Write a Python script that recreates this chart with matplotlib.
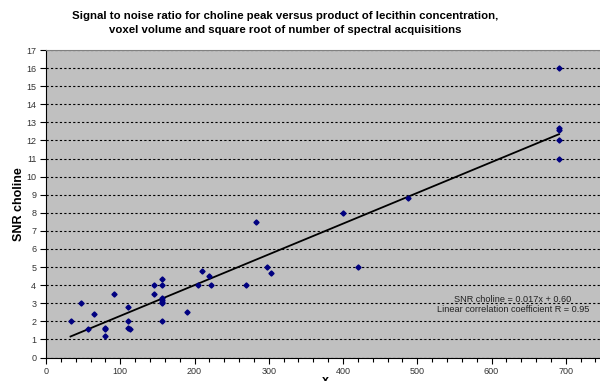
'''
Scatter of choline SNR against lecithin concentration x voxel volume x
sqrt(number of acquisitions), with the linear fit drawn through it.
'''
import matplotlib
matplotlib.use("Agg")
import matplotlib.pyplot as plt
import numpy as np
from matplotlib.ticker import MultipleLocator

# data
product_x = [33, 47, 56, 64, 80, 80, 80, 91, 110, 110, 110, 113,
             145, 145, 156, 156, 156, 156, 156, 156, 156, 190,
             205, 210, 220, 222, 270, 283, 297, 303, 400, 420, 488,
             691, 691, 691, 691, 691]
snr_choline = [2.0, 3.0, 1.6, 2.4, 1.65, 1.6, 1.2, 3.5, 2.8, 2.0, 1.65, 1.6,
               4.0, 3.5, 4.33, 4.0, 3.3, 3.2, 3.07, 3.0, 2.0, 2.5,
               4.0, 4.8, 4.5, 4.0, 4.0, 7.5, 5.0, 4.67, 8.0, 5.0, 8.8,
               16.0, 12.7, 12.55, 12.0, 11.0]
fit_coeffs = [0.017, 0.60]   # slope, intercept (from the chart's label)
x_ticks = [0, 100, 200, 300, 400, 500, 600, 700]

title_text = ("Signal to noise ratio for choline peak versus product of lecithin concentration,\n"
              "voxel volume and square root of number of spectral acquisitions")
fit_text = "SNR choline = 0.017x + 0.60\nLinear correlation coefficient R = 0.95"


def plot_snr(xs, ys, coeffs):
    """
    Draw the Excel-style scatter chart.
    :param xs: product values
    :param ys: SNR values
    :param coeffs: linear fit coefficients
    """
    plt.rcParams['font.family'] = ['Liberation Sans', 'DejaVu Sans']
    fig = plt.figure(figsize=(6, 3.81), dpi=100)
    # plot area runs off the right edge of the picture, like the original
    ax = fig.add_axes([46 / 600, 23.5 / 381, 594 / 600, 307.5 / 381])
    ax.set_facecolor("#c0c0c0")

    ax.set_xlim(0, 800)
    ax.set_ylim(0, 17)
    ax.set_xticks(x_ticks)
    ax.xaxis.set_minor_locator(MultipleLocator(20))
    ax.yaxis.set_major_locator(MultipleLocator(1))

    ax.grid(axis="y", color="black", linestyle=(0, (2, 2)), linewidth=0.8)
    ax.set_axisbelow(True)

    for side in ["top", "right"]:
        ax.spines[side].set_color("#808080")
    ax.spines["left"].set_color("black")
    ax.spines["bottom"].set_color("black")

    ax.tick_params(axis="both", which="major", direction="out", length=4,
                   width=0.8, labelsize=6.5, labelcolor="#333333", pad=3)
    ax.tick_params(axis="x", which="minor", direction="out", length=3, width=0.8)

    # fit line across the data range
    xfit = np.array([min(xs), max(xs)])
    ax.plot(xfit, np.polyval(coeffs, xfit), color="black", linewidth=1.3, zorder=2)

    ax.plot(xs, ys, linestyle="none", marker="D", markersize=2.6,
            color="#000080", zorder=3)

    ax.text(629, 2.93, fit_text, ha="center", va="center", fontsize=6.6,
            color="#222222", linespacing=1.25)

    ax.set_ylabel("SNR choline", fontsize=9, fontweight="bold")
    ax.yaxis.set_label_coords(-0.036, 0.5)
    ax.set_xlabel("x", fontsize=9, fontweight="bold")
    ax.xaxis.set_label_coords(0.47, -0.058)

    fig.text(0.475, 1 - 11 / 381, title_text, ha="center", va="top",
             fontsize=8.2, fontweight="bold", linespacing=1.45)

    fig.savefig("out.png", dpi=100)


def main():
    plot_snr(product_x, snr_choline, fit_coeffs)


if __name__ == "__main__":
    main()
